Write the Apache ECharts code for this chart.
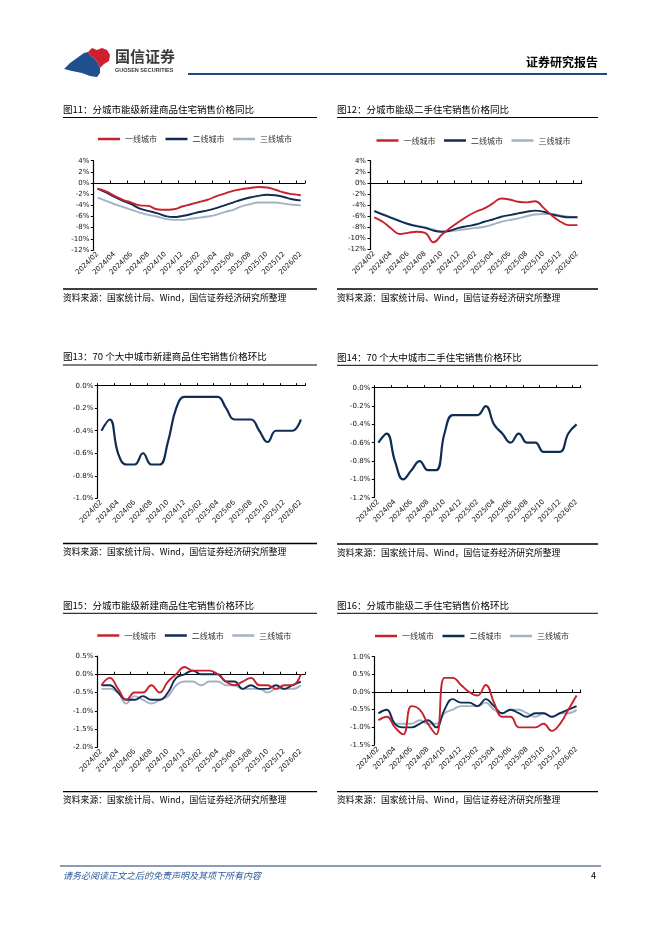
<!DOCTYPE html>
<html><head><meta charset="utf-8">
<script src="https://cdn.jsdelivr.net/npm/echarts@6/dist/echarts.min.js"></script>
<style>html,body{margin:0;padding:0;background:#fff}#c{width:662px;height:936px}</style>
</head><body><div id="c"></div>
<script>
const categories = ['2024/02','2024/03','2024/04','2024/05','2024/06','2024/07','2024/08','2024/09','2024/10','2024/11','2024/12','2025/01','2025/02','2025/03','2025/04','2025/05','2025/06','2025/07','2025/08','2025/09','2025/10','2025/11','2025/12','2026/01','2026/02'];
const tierNames = ['一线城市','二线城市','三线城市'];

// 图11 新建商品住宅同比 (%)
const c11_tier1 = [-1.0,-1.5,-2.3,-3.0,-3.5,-4.0,-4.1,-4.7,-4.8,-4.7,-4.2,-3.8,-3.4,-3.0,-2.4,-1.9,-1.4,-1.1,-0.9,-0.7,-0.8,-1.2,-1.7,-2.0,-2.2];
const c11_tier2 = [-1.0,-1.7,-2.5,-3.2,-3.8,-4.6,-5.0,-5.4,-5.9,-6.1,-5.9,-5.6,-5.2,-4.9,-4.5,-4.0,-3.5,-3.0,-2.6,-2.3,-2.1,-2.2,-2.5,-2.9,-3.1];
const c11_tier3 = [-2.6,-3.2,-3.8,-4.3,-4.8,-5.3,-5.7,-6.0,-6.4,-6.6,-6.6,-6.4,-6.2,-6.0,-5.7,-5.2,-4.8,-4.2,-3.8,-3.5,-3.5,-3.5,-3.7,-3.9,-4.0];
// 图12 二手住宅同比 (%)
const c12_tier1 = [-6.2,-7.0,-8.2,-9.2,-9.0,-8.8,-9.0,-10.7,-9.3,-8.1,-7.0,-6.0,-5.2,-4.6,-3.7,-2.8,-3.0,-3.4,-3.5,-3.3,-4.5,-5.9,-7.0,-7.6,-7.6];
const c12_tier2 = [-5.1,-5.7,-6.3,-6.9,-7.4,-7.8,-8.1,-8.6,-8.8,-8.6,-8.1,-7.8,-7.5,-7.0,-6.6,-6.1,-5.8,-5.5,-5.2,-5.0,-5.2,-5.7,-6.0,-6.2,-6.2];
const c12_tier3 = [-5.0,-5.6,-6.2,-6.8,-7.4,-7.7,-8.0,-8.4,-8.8,-8.7,-8.5,-8.3,-8.1,-7.9,-7.5,-7.0,-6.7,-6.4,-6.0,-5.7,-5.6,-5.6,-5.9,-6.1,-6.2];
// 图13 70城新建商品住宅环比 (%)
const c13_all = [-0.4,-0.3,-0.6,-0.7,-0.7,-0.6,-0.7,-0.7,-0.5,-0.2,-0.1,-0.1,-0.1,-0.1,-0.1,-0.2,-0.3,-0.3,-0.3,-0.4,-0.5,-0.4,-0.4,-0.4,-0.3];
// 图14 70城二手住宅环比 (%)
const c14_all = [-0.6,-0.5,-0.8,-1.0,-0.9,-0.8,-0.9,-0.9,-0.5,-0.3,-0.3,-0.3,-0.3,-0.2,-0.4,-0.5,-0.6,-0.5,-0.6,-0.6,-0.7,-0.7,-0.7,-0.5,-0.4];
// 图15 新建商品住宅环比 (%)
const c15_tier1 = [-0.3,-0.1,-0.4,-0.7,-0.5,-0.5,-0.3,-0.5,-0.2,0.0,0.2,0.1,0.1,0.1,0.0,-0.2,-0.3,-0.2,-0.1,-0.3,-0.3,-0.4,-0.3,-0.3,0.0];
const c15_tier2 = [-0.3,-0.3,-0.5,-0.7,-0.7,-0.6,-0.7,-0.7,-0.5,-0.1,0.0,0.1,0.0,0.0,0.0,-0.2,-0.2,-0.4,-0.3,-0.4,-0.4,-0.3,-0.4,-0.3,-0.2];
const c15_tier3 = [-0.4,-0.4,-0.5,-0.8,-0.6,-0.7,-0.8,-0.7,-0.6,-0.3,-0.2,-0.2,-0.3,-0.2,-0.2,-0.3,-0.3,-0.4,-0.4,-0.4,-0.5,-0.4,-0.4,-0.4,-0.3];
// 图16 二手住宅环比 (%)
const c16_tier1 = [-0.8,-0.7,-1.0,-1.2,-0.4,-0.5,-0.9,-1.2,0.4,0.4,0.2,0.0,-0.1,0.2,-0.3,-0.7,-0.7,-1.0,-1.0,-1.0,-0.9,-1.1,-0.9,-0.5,-0.1];
const c16_tier2 = [-0.6,-0.5,-0.9,-1.0,-1.0,-0.9,-0.8,-1.0,-0.5,-0.2,-0.3,-0.3,-0.4,-0.2,-0.4,-0.6,-0.5,-0.6,-0.7,-0.6,-0.6,-0.7,-0.6,-0.5,-0.4];
const c16_tier3 = [-0.6,-0.5,-0.9,-0.9,-0.9,-0.8,-0.9,-0.9,-0.6,-0.5,-0.4,-0.4,-0.4,-0.3,-0.5,-0.6,-0.5,-0.5,-0.6,-0.7,-0.6,-0.7,-0.6,-0.6,-0.5];

const titles = ['图11：分城市能级新建商品住宅销售价格同比','图12：分城市能级二手住宅销售价格同比','图13：70 个大中城市新建商品住宅销售价格环比','图14：70 个大中城市二手住宅销售价格环比','图15：分城市能级新建商品住宅销售价格环比','图16：分城市能级二手住宅销售价格环比'];
const sourceText = '资料来源：国家统计局、Wind，国信证券经济研究所整理';

const FONT = '"Noto Sans CJK SC","Noto Sans",sans-serif';
const RED = '#c8202d', NAVY = '#0f2d52', GRAY = '#a3b2c4';
const tierColors = [RED, NAVY, GRAY];

const pct0 = v => v + '%';
const pct1 = v => (Math.round(v * 10) / 10).toFixed(1) + '%';

const panels = [
  {grid:{left:93.3, top:160.7, width:211.7, height:89.3}, y:{min:-12,max:4,interval:2,fmt:pct0}, data:[c11_tier1,c11_tier2,c11_tier3], legend:{left:98, top:135}},
  {grid:{left:370, top:160.7, width:211.7, height:88.8}, y:{min:-12,max:4,interval:2,fmt:pct0}, data:[c12_tier1,c12_tier2,c12_tier3], legend:{left:376.5, top:136.5}},
  {grid:{left:97.3, top:385.7, width:207.7, height:112.6}, y:{min:-1.0,max:0,interval:0.2,fmt:pct1}, data:[c13_all], single:'70个大中城市新建商品住宅'},
  {grid:{left:374.3, top:387.7, width:206.4, height:110}, y:{min:-1.2,max:0,interval:0.2,fmt:pct1}, data:[c14_all], single:'70个大中城市二手住宅'},
  {grid:{left:97.3, top:656, width:207.7, height:91.3}, y:{min:-2.0,max:0.5,interval:0.5,fmt:pct1}, data:[c15_tier1,c15_tier2,c15_tier3], legend:{left:97.3, top:631.5}},
  {grid:{left:374.3, top:656.7, width:206.4, height:88.3}, y:{min:-1.5,max:1.0,interval:0.5,fmt:pct1}, data:[c16_tier1,c16_tier2,c16_tier3], legend:{left:375, top:632}}
];

const grids = [], xAxes = [], yAxes = [], series = [], legends = [];
panels.forEach((p, k) => {
  grids.push(Object.assign({containLabel:false}, p.grid));
  xAxes.push({
    type:'category', gridIndex:k, data:categories, boundaryGap:true, position:'bottom',
    axisLine:{show:false, onZero:false}, axisTick:{show:false},
    axisLabel:{interval:1, rotate:45, fontSize:7, color:'#111', margin:3, fontFamily:'"DejaVu Sans",sans-serif'}
  });
  xAxes.push({
    type:'category', gridIndex:k, data:categories, boundaryGap:true, position:'top',
    axisLine:{show:true, onZero:true, lineStyle:{color:'#000', width:1.2}},
    axisTick:{show:true, interval:1, length:2.5, inside:false, lineStyle:{color:'#000'}},
    axisLabel:{show:false}, splitLine:{show:false}
  });
  yAxes.push({
    type:'value', gridIndex:k, min:p.y.min, max:p.y.max, interval:p.y.interval,
    axisLine:{show:true, lineStyle:{color:'#000', width:1.2}},
    axisTick:{show:true, length:2.5, lineStyle:{color:'#000'}},
    splitLine:{show:false},
    axisLabel:{formatter:p.y.fmt, fontSize:7, color:'#111', margin:4, fontFamily:'"DejaVu Sans",sans-serif'}
  });
  p.data.forEach((d, j) => {
    const single = !!p.single;
    const col = single ? NAVY : tierColors[j];
    series.push({
      type:'line', name: single ? p.single : tierNames[j], xAxisIndex:2*k, yAxisIndex:k,
      data:d, smooth:0.45, symbol:'none', showSymbol:false,
      lineStyle:{color:col, width: single ? 2.2 : 1.9}, itemStyle:{color:col},
      z: 3 - j
    });
  });
  if (p.legend) {
    legends.push({
      data: tierNames, left:p.legend.left, top:p.legend.top, padding:0,
      itemWidth:22, itemHeight:2.5, itemGap:8.5, icon:'rect', selectedMode:false,
      textStyle:{fontSize:8, color:'#333', fontFamily:FONT}
    });
  }
});

// page decorations
const g = [];
function txt(x, y, text, font, fill, align) {
  g.push({type:'text', x:x, y:y, silent:true, style:{text:text, font:font, fill:fill||'#000', align:align||'left', verticalAlign:'middle'}});
}
function ln(x1, y1, x2, y2, stroke, w) {
  g.push({type:'line', silent:true, shape:{x1:x1,y1:y1,x2:x2,y2:y2}, style:{stroke:stroke||'#000', lineWidth:w||1}});
}
// header logo (blue lower-left ribbon, red upper-right flag)
g.push({type:'polygon', silent:true, shape:{points:[[64,69],[70,63],[77,58],[84,53],[88,52],[91,56],[95,59],[98,63],[100,68],[100,73],[97,77],[90,76],[82,73],[72,71]]}, style:{fill:'#1f4f8c'}});
g.push({type:'polygon', silent:true, shape:{points:[[88,52],[92,48],[97,50],[102,48],[107,50],[110,55],[109,61],[104,64],[100,68],[98,63],[95,59],[91,56]]}, style:{fill:'#d0202f'}});
txt(115, 56, '国信证券', 'bold 15px ' + FONT, '#3a3a3a');
txt(115, 70.5, 'GUOSEN SECURITIES', 'bold 5.5px "Liberation Sans",Arial,sans-serif', '#3a3a3a');
ln(188, 74, 607, 74, '#1a4a80', 2);
txt(598, 62.5, '证券研究报告', 'bold 12px ' + FONT, '#000', 'right');

const titleFont = '9.5px ' + FONT;
const srcFont = '8.8px ' + FONT;
const blocks = [
  {x1:63, x2:317, ty:109, uy:117.5, sy:289, st:298},
  {x1:337, x2:598, ty:109, uy:117.5, sy:289, st:298},
  {x1:63, x2:317, ty:356.7, uy:365, sy:543.5, st:552},
  {x1:337, x2:598, ty:357, uy:365.3, sy:544, st:552.3},
  {x1:63, x2:317, ty:605, uy:613.3, sy:791.7, st:799.5},
  {x1:337, x2:598, ty:605, uy:613.3, sy:791.7, st:799.5}
];
blocks.forEach((b, i) => {
  txt(b.x1, b.ty, titles[i], titleFont, '#000');
  ln(b.x1, b.uy, b.x2, b.uy, '#000', 1);
  ln(b.x1, b.sy, b.x2, b.sy, '#000', 1.3);
  txt(b.x1, b.st, sourceText, srcFont, '#000');
});
// footer
ln(60, 866, 601, 866, '#1a3a6a', 1.2);
txt(63, 875.5, '请务必阅读正文之后的免责声明及其项下所有内容', 'italic 9px ' + FONT, '#2a5a9a');
txt(596, 876, '4', '9px ' + FONT, '#000', 'right');

const chart = echarts.init(document.getElementById('c'), null, {renderer:'canvas'});
chart.setOption({
  backgroundColor:'#fff', animation:false,
  grid:grids, xAxis:xAxes, yAxis:yAxes, series:series, legend:legends, graphic:g
});
</script></body></html>
